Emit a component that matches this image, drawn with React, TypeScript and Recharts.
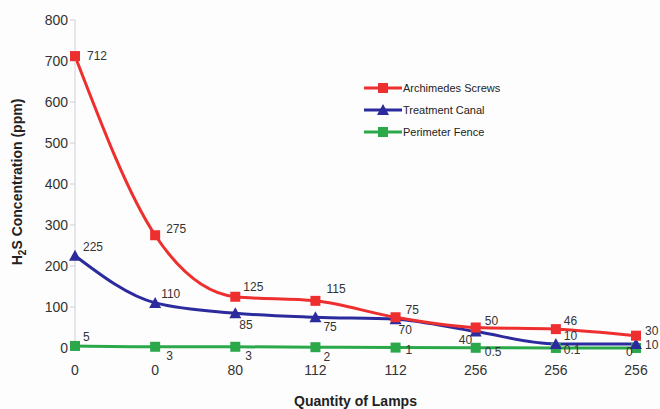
import React from "react";
import { LineChart, Line, XAxis, YAxis, LabelList, Label } from "recharts";

const lampLabels = ["0", "0", "80", "112", "112", "256", "256", "256"];
const archimedesScrews = [712, 275, 125, 115, 75, 50, 46, 30];
const treatmentCanal = [225, 110, 85, 75, 70, 40, 10, 10];
const perimeterFence = [5, 3, 3, 2, 1, 0.5, 0.1, 0];
const yTicks = [0, 100, 200, 300, 400, 500, 600, 700, 800];

const RED = "#ee2f2f";
const BLUE = "#2b2b9e";
const GREEN = "#2aa84a";

const data = lampLabels.map((lamps, i) => ({
  idx: i,
  lamps,
  screws: archimedesScrews[i],
  canal: treatmentCanal[i],
  fence: perimeterFence[i],
}));

// label offsets [dx, dy] relative to the point
const redOffsets = [[12, 4], [11, -2], [8, -6], [11, -8], [10, -3], [9, -3], [8, -4], [9, -1]];
const blueOffsets = [[8, -5], [6, -5], [4, 16], [8, 14], [3, 15], [-17, 12], [8, -4], [9, 5]];
const greenOffsets = [[8, -5], [11, 13], [10, 13], [8, 14], [10, 6], [9, 8], [8, 6], [-10, 8]];

const makeLabel = (offsets: number[][]) => (props: any) => {
  const { x, y, value, index } = props;
  const [dx, dy] = offsets[index] || [8, -4];
  return (
    <text x={x + dx} y={y + dy} fontSize={12} fill="#333" fontFamily="Liberation Sans, Arial, sans-serif">
      {value}
    </text>
  );
};

const Square = (color: string) => (props: any) => {
  const { cx, cy } = props;
  return <rect x={cx - 5} y={cy - 5} width={10} height={10} fill={color} />;
};

const Triangle = (color: string) => (props: any) => {
  const { cx, cy } = props;
  return <polygon points={`${cx},${cy - 6} ${cx - 6},${cy + 5} ${cx + 6},${cy + 5}`} fill={color} />;
};

const YTitle = (props: any) => {
  const { viewBox } = props;
  const cx = 22;
  const cy = viewBox.y + viewBox.height / 2 - 2;
  return (
    <text
      transform={`translate(${cx},${cy}) rotate(-90)`}
      textAnchor="middle"
      fontSize={14}
      fontWeight="bold"
      fill="#222"
      fontFamily="Liberation Sans, Arial, sans-serif"
    >
      H<tspan fontSize={10} dy={4}>2</tspan>
      <tspan dy={-4}>S Concentration (ppm)</tspan>
    </text>
  );
};

const legendItems = [
  { name: "Archimedes Screws", color: RED, shape: "square" },
  { name: "Treatment Canal", color: BLUE, shape: "triangle" },
  { name: "Perimeter Fence", color: GREEN, shape: "square" },
];

function Legend() {
  return (
    <div style={{ position: "absolute", left: 364, top: 77, fontFamily: "Liberation Sans, Arial, sans-serif", fontSize: 11, color: "#222" }}>
      {legendItems.map((it) => (
        <div key={it.name} style={{ display: "flex", alignItems: "center", height: 22 }}>
          <svg width={38} height={12}>
            <line x1={0} y1={6} x2={38} y2={6} stroke={it.color} strokeWidth={3} />
            {it.shape === "square" ? (
              <rect x={14} y={1} width={10} height={10} fill={it.color} />
            ) : (
              <polygon points="19,0 13,11 25,11" fill={it.color} />
            )}
          </svg>
          <span style={{ marginLeft: 1 }}>{it.name}</span>
        </div>
      ))}
    </div>
  );
}

export default function App() {
  return (
    <div style={{ position: "absolute", left: 0, top: 0, width: 660, height: 409, background: "#fdfdfd" }}>
      <LineChart width={660} height={409} data={data} margin={{ top: 20, right: 24, bottom: 0, left: 0 }}>
        <XAxis
          dataKey="idx"
          type="category"
          tickFormatter={(v: any) => lampLabels[v]}
          axisLine={false}
          tickLine={false}
          tick={{ fontSize: 14, fill: "#333", fontFamily: "Liberation Sans, Arial, sans-serif" }}
          tickMargin={11}
          interval={0}
          height={61}
        >
          <Label
            value="Quantity of Lamps"
            position="insideBottom"
            offset={3}
            style={{ fontSize: 14, fontWeight: "bold", fill: "#222", fontFamily: "Liberation Sans, Arial, sans-serif" }}
          />
        </XAxis>
        <YAxis
          domain={[0, 800]}
          ticks={yTicks}
          width={75}
          axisLine={{ stroke: "#cfcfd8" }}
          tickLine={{ stroke: "#cfcfd8" }}
          tickSize={5}
          tick={{ fontSize: 14, fill: "#333", fontFamily: "Liberation Sans, Arial, sans-serif" }}
        >
          <Label content={<YTitle />} />
        </YAxis>
        <Line type="monotone" dataKey="fence" stroke={GREEN} strokeWidth={3} dot={Square(GREEN)} isAnimationActive={false}>
          <LabelList dataKey="fence" content={makeLabel(greenOffsets)} />
        </Line>
        <Line type="monotone" dataKey="canal" stroke={BLUE} strokeWidth={3} dot={Triangle(BLUE)} isAnimationActive={false}>
          <LabelList dataKey="canal" content={makeLabel(blueOffsets)} />
        </Line>
        <Line type="monotone" dataKey="screws" stroke={RED} strokeWidth={3} dot={Square(RED)} isAnimationActive={false}>
          <LabelList dataKey="screws" content={makeLabel(redOffsets)} />
        </Line>
      </LineChart>
      <Legend />
    </div>
  );
}
